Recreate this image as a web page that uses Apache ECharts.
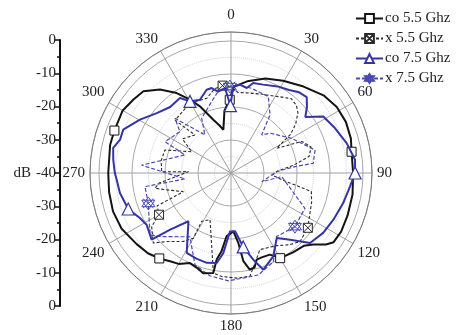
<!DOCTYPE html>
<html>
<head>
<meta charset="utf-8">
<script src="https://cdn.jsdelivr.net/npm/echarts@6/dist/echarts.min.js"></script>
<style>
  html, body { margin: 0; padding: 0; background: #fff; }
  #chart { width: 462px; height: 335px; }
</style>
</head>
<body>
<div id="chart"></div>
<script>
// Radiation pattern, angle in degrees (clockwise from 0 at top), level in dB.
const seriesNames = ['co 5.5 Ghz', 'x 5.5 Ghz', 'co 7.5 Ghz', 'x 7.5 Ghz'];

const co55Angle = [2, 10, 20, 29.5, 40, 50, 58, 66, 74, 80, 90, 100, 110, 118, 124, 127, 131, 135, 142, 150,
  154.5, 160, 163.5, 166, 169, 172, 174, 177.7, 181, 184, 187, 189.4, 190, 195.5, 200, 204.5, 210, 214.6, 220,
  226, 233, 243, 252, 261, 270, 283, 290, 300, 307, 313, 319.6, 325.8, 330.8, 335, 341.6, 346, 350, 354, 359, 2];
const co55Db = [-13.8, -11.8, -9.5, -7.9, -5.8, -3.4, -2.2, -1.9, -2.2, -2.9, -3.0, -2.6, -2.4, -2.2, -2.5, -4.0, -7.0, -8.8, -9.5, -10.2,
  -12.6, -12.8, -12.6, -10.5, -10.2, -13, -18.7, -22.3, -21.5, -20.8, -16, -13.4, -9.2, -8.5, -9.5, -10, -8.2, -7.5, -6.2,
  -5.0, -4.2, -2.8, -2.4, -2.6, -2.8, -2.4, -2.4, -2.1, -3.0, -3.7, -6.8, -10.7, -14.5, -17.7, -23, -25, -26.7, -21, -17.8, -13.8];
const co55Marks = [80, 150, 220, 290, 359];

const x55Angle = [354.5, 0, 5, 12, 20, 26, 33, 39, 44, 48, 53, 57, 61.6, 66, 72, 78, 83, 88, 93, 98, 103, 110, 118,
  125.5, 134.8, 141, 147.8, 159.3, 165, 169.6, 176.9, 185.1, 190, 194.7, 204.2, 211.2, 210, 214.9, 223.2, 228, 236,
  239.9, 246, 248.6, 254, 258.6, 262, 271.8, 271, 280, 289.2, 298.5, 305, 316.5, 313.4, 325, 333.2, 342, 349, 354.5];
const x55Db = [-13.4, -14, -15.5, -15.2, -14.5, -13.8, -12.5, -11, -11.5, -12.7, -15.5, -18.5, -24.3, -16.5, -14.5, -15.8, -21, -26, -27.5, -24, -15, -14, -13,
  -11.4, -10.5, -12, -14, -15.2, -11.8, -8.2, -8.1, -8.5, -9.2, -17, -24.5, -22.9, -17.2, -14.7, -11.5, -8.3, -11,
  -14.8, -15.5, -24.5, -21, -16.5, -18, -27.1, -19, -18.5, -18.8, -26.5, -22, -24.1, -16.7, -16, -15.8, -16.2, -14, -13.4];
const x55Marks = [354.5, 125.5, 239.9];

const co75Angle = [1.5, 5.8, 10.5, 13.9, 20, 28.3, 35, 40.2, 44.9, 49, 53, 58.5, 66.6, 75.5, 83.9, 90, 96.4, 105, 114.5,
  123, 131.5, 138.5, 144.9, 153.1, 161.5, 165.6, 170.6, 176, 181, 185.5, 189, 195.1, 202, 209, 221.4, 227, 230, 238.5,
  243.7, 250.7, 259.8, 266.6, 270, 276.4, 282, 286.7, 291.9, 300.4, 308.9, 317.3, 325.8, 330.2, 337, 343.7, 347.2, 351,
  356, 359.5, 1.5];
const co75Db = [-13.8, -13.1, -13.8, -11.9, -11.5, -10.2, -9.3, -8.0, -7.5, -9.5, -11.8, -7.2, -5.7, -3.8, -2.2, -2.4, -3.7, -4.8, -5.9,
  -6.7, -8.0, -13, -15.9, -11.7, -9.1, -12.9, -17.3, -22.3, -22.3, -15.6, -12.4, -11.8, -12, -12.3, -20.5, -14.8, -8.6, -10,
  -9.2, -7, -5.8, -5.3, -4.8, -4.1, -3.5, -4.9, -4.8, -8.0, -11.1, -12.8, -12.5, -15, -15.9, -13.7, -13.6, -15,
  -14.2, -19.6, -13.8];
const co75Marks = [90, 170.6, 250.7, 330.2, 359.5];

const x75Angle = [359.3, 4.8, 13.7, 26, 33.9, 38.9, 44.5, 60.3, 74.7, 83.3, 84.3, 88.3, 105.8, 94.1, 115.5, 130,
  144.4, 154.5, 165, 181.4, 191.6, 201.4, 212.8, 227.4, 232.6, 249.8, 261, 262.6, 275, 291.4, 295.4, 309, 314.3,
  325.6, 331.8, 344.8, 351, 359.3];
const x75Db = [-13.8, -13.2, -13.6, -14.2, -18.8, -25.2, -23.1, -18.8, -13.6, -14.9, -20.5, -26.2, -30.3, -24.6, -15.2, -14.7,
  -16.3, -10.2, -8, -7.3, -8.2, -10.1, -17, -11.5, -9.1, -13.3, -13.6, -26, -12.8, -25, -17.9, -20.1, -16.3,
  -26, -21.2, -17.6, -15, -13.8];
const x75Marks = [359.3, 130, 249.8];

// Tick labels
const angleTickLabels = ['0', '30', '60', '90', '120', '150', '180', '210', '240', '270', '300', '330'];
const dbTickLabels = ['0', '-10', '-20', '-30', '-40', '-30', '-20', '-10', '0'];

const FONT = 'Liberation Serif';
const BLACK = '#141414';
const BLUE = '#3434a6';

// the frame ring sits a little outside the 0 dB circle
const R_DATA = 132, R_FRAME = 141;
const radiusMax = -40 + 40 * R_FRAME / R_DATA;

const crossSquare = 'path://M0,0 L10,0 L10,10 L0,10 Z M0,0 L10,10 M10,0 L0,10';
const starMark = 'path://M5,0 L9.33,7.5 L0.67,7.5 Z M5,10 L9.33,2.5 L0.67,2.5 Z M1.5,1.5 L8.5,8.5 M8.5,1.5 L1.5,8.5';

function build(angles, dbs, marks) {
  return angles.map((a, i) => {
    const item = { value: [dbs[i], a] };
    if (!(marks.includes(a) && angles.indexOf(a) === i)) item.symbol = 'none';
    return item;
  });
}

const labelFont = { fontFamily: FONT, fontSize: 15, color: '#222' };

const chart = echarts.init(document.getElementById('chart'), null, { renderer: 'canvas' });

chart.setOption({
  animation: false,
  backgroundColor: '#fff',
  legend: {
    data: seriesNames,
    orient: 'vertical',
    left: 350,
    top: 6,
    itemWidth: 27,
    itemHeight: 11,
    itemGap: 5,
    textStyle: { ...labelFont, padding: [0, 0, 0, -3] }
  },
  polar: { center: [231, 173], radius: R_FRAME },
  angleAxis: {
    type: 'value', min: 0, max: 360, interval: 30,
    startAngle: 90, clockwise: true,
    axisLine: { show: true, lineStyle: { color: '#7a7a7a', width: 1 } },
    axisTick: { show: false },
    splitLine: { show: true, lineStyle: { color: '#a0a0a0', width: 1 } },
    axisLabel: {
      margin: 5, align: 'center', verticalAlign: 'middle',
      ...labelFont,
      formatter: v => {
        const t = angleTickLabels[Math.round(v / 30)] ?? '';
        return v === 0 ? '{top|' + t + '}' : t;
      },
      rich: { top: { ...labelFont, padding: [0, 0, 4, 0] } }
    }
  },
  radiusAxis: {
    type: 'value', min: -40, max: radiusMax, interval: 10,
    axisLine: { show: false }, axisTick: { show: false }, axisLabel: { show: false },
    splitLine: { show: true, lineStyle: { color: '#a8a8a8', width: 1 } },
    minorTick: { show: false, splitNumber: 2 },
    minorSplitLine: { show: true, lineStyle: { color: '#cfcfcf', type: 'dotted', width: 1 } }
  },
  grid: { left: 60, top: 40, width: 1, height: 266 },
  xAxis: { type: 'value', show: false, min: 0, max: 1 },
  yAxis: {
    type: 'value', min: -40, max: 40, interval: 10,
    name: 'dB', nameLocation: 'middle', nameRotate: 0, nameGap: 27,
    nameTextStyle: labelFont,
    axisLine: { show: true, lineStyle: { color: '#111', width: 2 } },
    axisTick: { show: true, length: 5, lineStyle: { color: '#111', width: 1.5 } },
    minorTick: { show: true, splitNumber: 2, length: 3, lineStyle: { color: '#111', width: 1.5 } },
    splitLine: { show: false },
    axisLabel: {
      margin: 4, ...labelFont,
      formatter: v => dbTickLabels[Math.round((40 - v) / 10)] ?? ''
    }
  },
  series: [
    {
      name: seriesNames[1], type: 'line', coordinateSystem: 'polar', z: 2,
      data: build(x55Angle, x55Db, x55Marks),
      symbol: crossSquare, symbolSize: 9,
      lineStyle: { color: '#2a2a2a', width: 1.1, type: [3, 2] },
      itemStyle: { color: '#fff', borderColor: '#2a2a2a', borderWidth: 1 }
    },
    {
      name: seriesNames[3], type: 'line', coordinateSystem: 'polar', z: 3,
      data: build(x75Angle, x75Db, x75Marks),
      symbol: starMark, symbolSize: 13,
      lineStyle: { color: '#4a4ab6', width: 1.2, type: [4, 2] },
      itemStyle: { color: 'rgba(255,255,255,0)', borderColor: '#4a4ab6', borderWidth: 1 }
    },
    {
      name: seriesNames[0], type: 'line', coordinateSystem: 'polar', z: 4,
      data: build(co55Angle, co55Db, co55Marks),
      symbol: 'rect', symbolSize: 9,
      lineStyle: { color: BLACK, width: 2 },
      itemStyle: { color: '#fff', borderColor: BLACK, borderWidth: 1 }
    },
    {
      name: seriesNames[2], type: 'line', coordinateSystem: 'polar', z: 5,
      data: build(co75Angle, co75Db, co75Marks),
      symbol: 'triangle', symbolSize: 12,
      lineStyle: { color: BLUE, width: 2 },
      itemStyle: { color: '#fff', borderColor: BLUE, borderWidth: 1.2 }
    }
  ]
});
</script>
</body>
</html>
